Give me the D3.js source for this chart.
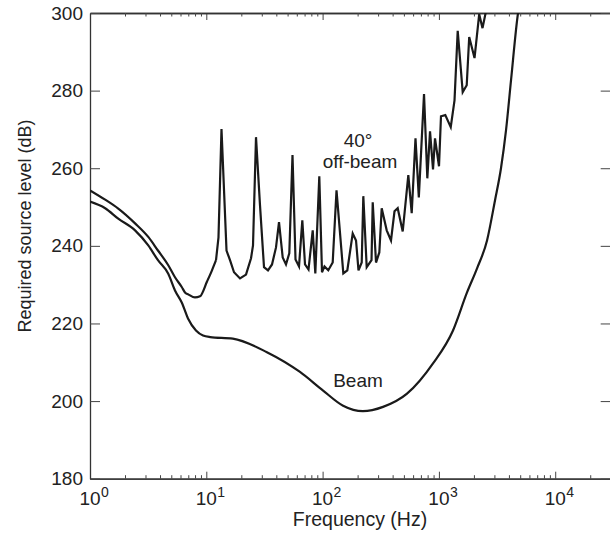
<!DOCTYPE html>
<html>
<head>
<meta charset="utf-8">
<script src="https://cdn.jsdelivr.net/npm/d3@7"></script>
<style>
  body { margin: 0; background: #fff; }
  text { font-family: "Liberation Sans", Arial, sans-serif; fill: #222; }
</style>
</head>
<body>
<div id="chart"></div>
<script>
// beam curve
var beamFreq = [1.00, 1.35, 1.75, 2.44, 3.17, 3.84, 4.71, 5.38, 6.15, 6.96, 8.15, 9.37, 10.8, 16.9, 33.2, 63.9, 101, 150, 222, 331, 532, 890, 1322, 1745, 2128, 2593, 3035, 3418, 3777, 4170, 4790, 5100];
var beamLevel = [251.4, 249.7, 247.0, 244.0, 240.1, 236.3, 232.8, 228.5, 225.4, 221.3, 218.2, 216.9, 216.5, 216.1, 212.6, 207.5, 202.7, 198.8, 197.4, 198.5, 201.9, 209.7, 218.2, 228.0, 234.2, 241.4, 251.7, 260.0, 269.8, 282.7, 300.0, 304.6];

// 40 deg off-beam curve
var offFreq = [1.00, 1.35, 1.75, 2.44, 3.17, 3.84, 4.71, 5.38, 6.15, 6.56, 7.00, 7.99, 8.83, 10.14, 11.19, 12.12, 12.73, 13.51, 14.92, 15.99, 17.31, 19.49, 21.95, 24.24, 25.21,
  26.75, 28.95, 31.34, 33.92, 36.72, 39.75, 42.18, 45.39, 48.44, 51.72, 55.10, 58.48, 62.68, 66.92, 70.59, 75.65, 82.22, 86.56, 93.67, 98.8,
  103.8, 111.9, 122.1, 131.7, 150.7, 163.1, 181.5, 193.8, 203.5, 216.9, 223.9, 239.4, 263.4, 269.7, 287.9, 307.4, 322.2, 355.8, 387.3, 415.1,
  442.3, 488.4, 545.8, 583.6, 629.1, 671.8, 744.7, 795.1, 838.7, 889.9, 925.8, 1002, 1042, 1135, 1264, 1362, 1451, 1602, 1734, 1822,
  2024, 2221, 2371, 2541, 2861];
var offLevel = [254.3, 251.9, 249.6, 245.8, 242.3, 238.8, 235.0, 231.9, 229.4, 228.0, 227.5, 226.7, 227.0, 230.8, 233.7, 236.3, 242.2, 270.1, 238.8, 236.3, 233.2, 231.6, 232.6, 236.8, 240.1,
  268.0, 250.5, 234.5, 233.7, 235.2, 239.6, 246.1, 237.0, 235.2, 238.1, 263.4, 236.5, 234.7, 246.6, 235.2, 233.9, 244.0, 232.9, 257.9, 233.2,
  234.7, 233.7, 235.7, 254.3, 232.9, 233.7, 243.2, 241.4, 233.7, 235.7, 252.8, 234.5, 236.3, 251.2, 235.7, 238.3, 249.7, 244.0, 241.4, 248.9,
  249.7, 243.7, 258.2, 248.4, 267.7, 252.5, 279.1, 257.4, 269.5, 259.7, 267.7, 260.5, 273.4, 273.7, 270.6, 277.5, 295.4, 279.6, 281.4, 293.8,
  288.4, 299.7, 296.1, 300.5, 305.0];

var xMajor = [1, 10, 100, 1000, 10000];
var xExp = ["0", "1", "2", "3", "4"];
var yTicks = [180, 200, 220, 240, 260, 280, 300];

var width = 610, height = 533;
var mLeft = 90, mTop = 13, mRight = 610.7, mBottom = 478.7;

var xMinor = [];
xMajor.forEach(function(d) {
  for (var k = 2; k <= 9; k++) xMinor.push(d * k);
});
xMinor = xMinor.filter(function(v) { return v <= 30000; });

var x = d3.scaleLog().domain([1, 30000]).range([mLeft, mRight]);
var y = d3.scaleLinear().domain([180, 300]).range([mBottom, mTop]);

var svg = d3.select("#chart").append("svg")
    .attr("width", width)
    .attr("height", height);

svg.append("clipPath").attr("id", "plot")
  .append("rect")
    .attr("x", mLeft).attr("y", mTop)
    .attr("width", mRight - mLeft).attr("height", mBottom - mTop);

function styleAxis(g) {
  g.selectAll("path.domain").attr("stroke", "#333").attr("stroke-width", 1.3);
  g.selectAll(".tick line").attr("stroke", "#444").attr("stroke-width", 1);
  g.selectAll(".tick text").attr("font-size", 19).attr("fill", "#222")
    .attr("font-family", "Liberation Sans, Arial, sans-serif");
}

// bottom axis
svg.append("g").attr("transform", "translate(0," + mBottom + ")")
  .call(d3.axisBottom(x).tickValues(xMajor).tickSizeInner(-7).tickSizeOuter(0).tickFormat(""))
  .call(styleAxis);
svg.append("g").attr("transform", "translate(0," + mBottom + ")")
  .call(d3.axisBottom(x).tickValues(xMinor).tickSizeInner(-3.5).tickSizeOuter(0).tickFormat(""))
  .call(styleAxis);

// top axis
svg.append("g").attr("transform", "translate(0," + mTop + ")")
  .call(d3.axisTop(x).tickValues(xMajor).tickSizeInner(-7).tickSizeOuter(0).tickFormat(""))
  .call(styleAxis);
svg.append("g").attr("transform", "translate(0," + mTop + ")")
  .call(d3.axisTop(x).tickValues(xMinor).tickSizeInner(-3.5).tickSizeOuter(0).tickFormat(""))
  .call(styleAxis);

// left axis
svg.append("g").attr("transform", "translate(" + mLeft + ",0)")
  .call(d3.axisLeft(y).tickValues(yTicks).tickSizeInner(-10).tickSizeOuter(0).tickPadding(7))
  .call(styleAxis);

// right axis
svg.append("g").attr("transform", "translate(" + mRight + ",0)")
  .call(d3.axisRight(y).tickValues(yTicks).tickSizeInner(-10).tickSizeOuter(0).tickFormat(""))
  .call(styleAxis);

// x tick labels with exponents
var xl = svg.append("g");
xMajor.forEach(function(v, i) {
  xl.append("text")
    .attr("x", x(v)).attr("y", mBottom + 26)
    .attr("text-anchor", "middle")
    .attr("font-size", 19)
    .text("10");
  xl.append("text")
    .attr("x", x(v) + 11).attr("y", mBottom + 18)
    .attr("font-size", 14)
    .text(xExp[i]);
});

// axis titles
svg.append("text")
  .attr("x", 360).attr("y", 526)
  .attr("text-anchor", "middle")
  .attr("font-size", 19.5)
  .text("Frequency (Hz)");

svg.append("text")
  .attr("transform", "translate(31,226) rotate(-90)")
  .attr("text-anchor", "middle")
  .attr("font-size", 18)
  .text("Required source level (dB)");

// curves
var plot = svg.append("g").attr("clip-path", "url(#plot)");

var beam = beamFreq.map(function(f, i) { return [f, beamLevel[i]]; });
var off = offFreq.map(function(f, i) { return [f, offLevel[i]]; });

plot.append("path")
  .datum(beam)
  .attr("fill", "none")
  .attr("stroke", "#1a1a1a")
  .attr("stroke-width", 2.2)
  .attr("d", d3.line()
    .x(function(d) { return x(d[0]); })
    .y(function(d) { return y(d[1]); })
    .curve(d3.curveMonotoneX));

// smooth low-frequency part, then straight segments through the spikes
var offLow = off.filter(function(d) { return d[0] <= 12.2; });
var offHigh = off.filter(function(d) { return d[0] >= 12.1; });

plot.append("path")
  .datum(offLow)
  .attr("fill", "none")
  .attr("stroke", "#1a1a1a")
  .attr("stroke-width", 2.2)
  .attr("d", d3.line()
    .x(function(d) { return x(d[0]); })
    .y(function(d) { return y(d[1]); })
    .curve(d3.curveMonotoneX));

plot.append("path")
  .datum(offHigh)
  .attr("fill", "none")
  .attr("stroke", "#1a1a1a")
  .attr("stroke-width", 2.2)
  .attr("d", d3.line()
    .x(function(d) { return x(d[0]); })
    .y(function(d) { return y(d[1]); }));

// curve labels
svg.append("text")
  .attr("x", 358).attr("y", 147)
  .attr("text-anchor", "middle")
  .attr("font-size", 19)
  .text("40°");
svg.append("text")
  .attr("x", 360).attr("y", 168)
  .attr("text-anchor", "middle")
  .attr("font-size", 19)
  .text("off-beam");
svg.append("text")
  .attr("x", 358).attr("y", 387)
  .attr("text-anchor", "middle")
  .attr("font-size", 19)
  .text("Beam");
</script>
</body>
</html>
